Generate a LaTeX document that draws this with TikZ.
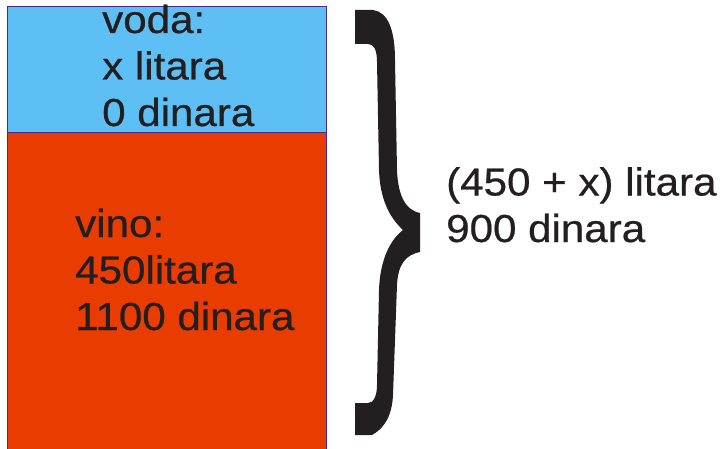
\documentclass[tikz,border=0pt]{standalone}
\usepackage{fontspec}
\setmainfont{Liberation Sans}[FakeStretch=1.08, FakeBold=0.6]
\definecolor{waterblue}{HTML}{5EBFF4}
\definecolor{winered}{HTML}{E83C00}
\definecolor{edgepurple}{HTML}{4A2A8C}
\definecolor{inkdark}{HTML}{231F20}
\tikzset{
  label text/.style={anchor=base west, inner sep=0pt, align=left, text=inkdark,
    font=\fontsize{39}{46.5}\selectfont},
  layer/.style={draw=edgepurple, line width=0.9pt}
}
\begin{document}
\begin{tikzpicture}[x=1pt, y=-1pt]
\useasboundingbox (0,0) rectangle (725,449);
\begin{scope}
\clip (0,0) rectangle (725,449);
% the two layers of the vessel
\fill[winered] (7.5,132) rectangle (326,455);
\draw[layer] (7.5,455) -- (7.5,132) -- (326,132) -- (326,455);
\fill[waterblue] (7.5,6) rectangle (326,132);
\draw[layer] (7.5,6) rectangle (326,132);
% labels inside the layers (anchored at the last line's baseline)
\node[label text] (water) at (102,126) {voda:\\x litara\\0 dinara};
\node[label text] (wine) at (75,330) {vino:\\450litara\\1100 dinara};
\end{scope}
% curly brace around both layers
\fill[inkdark] (355,10) -- (373,10)
  .. controls (388,12) and (395,30) .. (395,60)
  -- (397,170) .. controls (398,195) and (405,210) .. (420,213)
  -- (420,252) .. controls (405,255) and (398,265) .. (397,285)
  -- (393,395) .. controls (392,415) and (385,428) .. (372,435)
  -- (355,435) -- (355,403) -- (368,403)
  .. controls (374,403) and (377,395) .. (377,385)
  -- (379,290) .. controls (380,260) and (390,240) .. (403,230)
  .. controls (390,218) and (380,200) .. (379,170)
  -- (377,62) .. controls (377,50) and (374,44) .. (368,44)
  -- (355,44) -- cycle;
% total of the mixture
\node[label text] (mix) at (446,242) {(450 + x) litara\\900 dinara};
\end{tikzpicture}
\end{document}
